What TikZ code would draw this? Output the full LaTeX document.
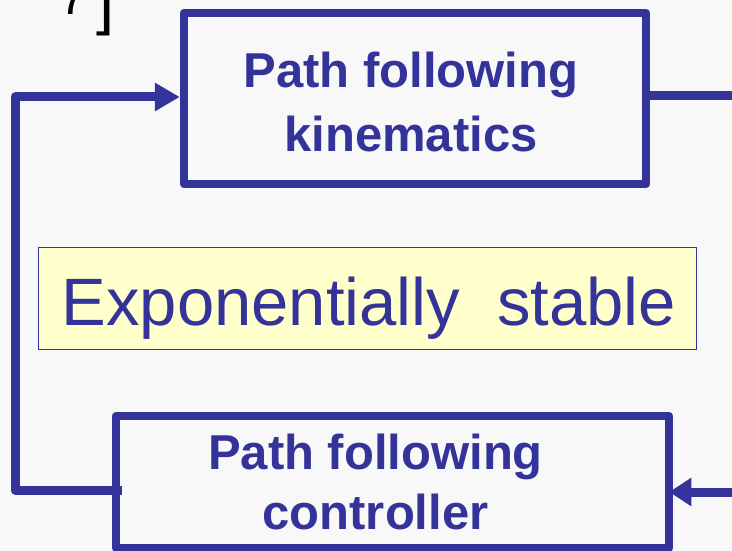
\documentclass[tikz,border=0pt]{standalone}
\usepackage{fontspec}
\setmainfont{Liberation Sans}
\usetikzlibrary{arrows.meta}
\definecolor{navy}{HTML}{333399}
\definecolor{cream}{HTML}{FFFFCC}
\definecolor{paper}{HTML}{F8F8F8}
\tikzset{
  blockbox/.style={draw=navy, line width=8.5pt, line join=round, rectangle, inner sep=0pt},
  blocktext/.style={text=navy, align=center, inner sep=0pt, font=\fontsize{49}{#1}\selectfont\bfseries},
  flow/.style={draw=navy, line width=9pt, line join=round},
  noteframe/.style={draw=navy, line width=1.5pt, fill=cream, rectangle, inner sep=0pt},
  notetext/.style={text=navy, inner sep=0pt, anchor=base, font=\fontsize{67}{80}\selectfont},
  tip/.style={-{Triangle[length=#1, width=27pt]}}
}
\begin{document}
\begin{tikzpicture}[x=1pt, y=-1pt]
  \useasboundingbox (0,0) rectangle (732,551);
  \fill[paper] (0,0) rectangle (732,551);
  \clip (0,0) rectangle (732,551);

  % citation fragment at the top edge
  \node[anchor=base west, inner sep=0pt, font=\fontsize{50}{60}\selectfont] (cite7) at (59,15) {7};
  \node[anchor=base west, inner sep=0pt, font=\fontsize{65}{78}\selectfont] (citeb) at (96.6,22.3) {]};

  % plant and controller blocks
  \node[blockbox, minimum width=462pt, minimum height=171pt] (kin) at (415,98.5) {};
  \node[blocktext=64] (kintxt) at (411,102.1) {Path following\\kinematics};

  \node[blockbox, minimum width=553pt, minimum height=132pt] (ctl) at (392.5,482) {};
  \node[blocktext=60] (ctltxt) at (375.5,482.1) {Path following\\controller};

  % stability note
  \node[noteframe, minimum width=658pt, minimum height=102pt] (note) at (367.5,298.5) {};
  \node[notetext] (notetxt) at (369,325) {Exponentially\ \ stable};

  % loop connectors
  \coordinate (fbl) at (15,490);
  \coordinate (fbt) at (15,97);
  \coordinate (rout) at (745,96);
  \coordinate (rin) at (745,492);

  \draw[flow, tip=25pt, shorten <=-10pt] (ctl.west |- fbl) -- (fbl) -- (fbt) -- (fbt -| kin.west);
  \draw[flow] (kin.east |- rout) -- (rout);
  \draw[flow, tip=22pt, shorten >=-4pt] (rin) -- (rin -| ctl.east);
\end{tikzpicture}
\end{document}
